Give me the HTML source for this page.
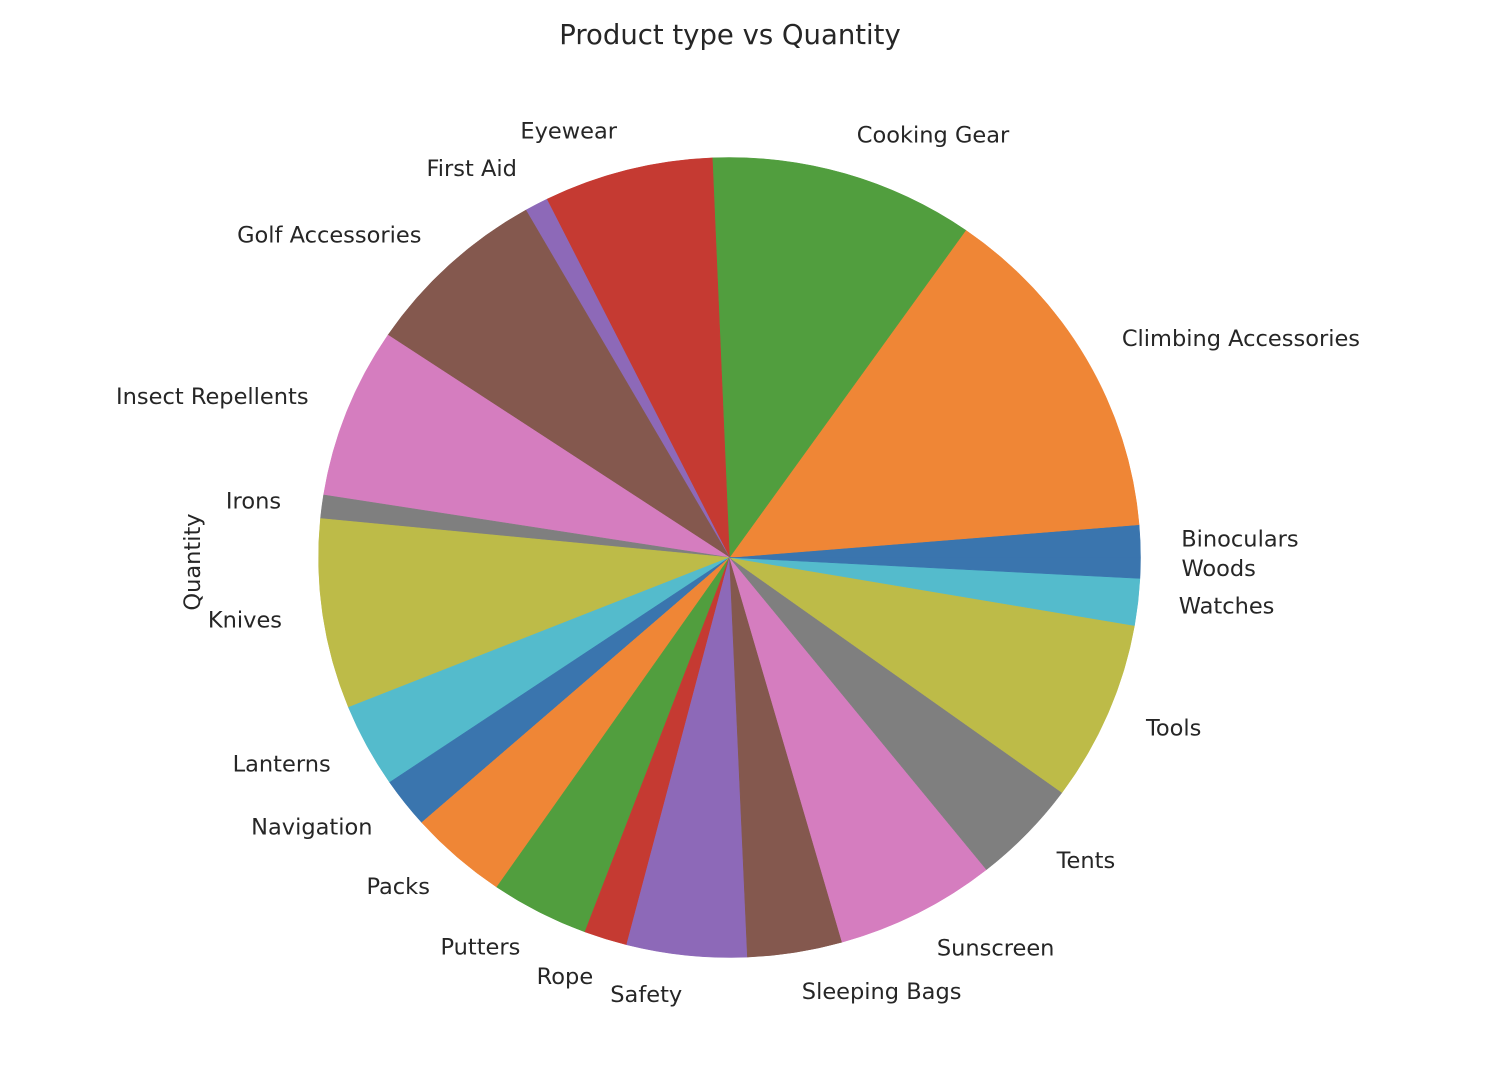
<!DOCTYPE html>
<html>
<head>
<meta charset="utf-8">
<style>
  html, body { margin: 0; padding: 0; background: #ffffff; }
  svg { display: block; }
  text { font-family: "DejaVu Sans", "Liberation Sans", sans-serif; fill: #262626; }
</style>
</head>
<body>
<svg id="chart" width="1506" height="1068" viewBox="0 0 1506 1068" xmlns="http://www.w3.org/2000/svg">
  <rect x="0" y="0" width="1506" height="1068" fill="#ffffff"/>
  <text x="730" y="44" font-size="27.5" text-anchor="middle">Product type vs Quantity</text>
  <text x="0" y="0" font-size="22.5" text-anchor="middle" transform="translate(200,562) rotate(-90)">Quantity</text>
  <g id="slices"></g>
  <g id="labels"></g>
</svg>
<script>
const categories = ["Binoculars","Climbing Accessories","Cooking Gear","Eyewear","First Aid","Golf Accessories","Insect Repellents","Irons","Knives","Lanterns","Navigation","Packs","Putters","Rope","Safety","Sleeping Bags","Sunscreen","Tents","Tools","Watches","Woods"];
const quantities = [4700,50200,37500,24000,3300,26500,24800,3400,27600,12200,7300,14000,13900,6100,17000,13400,22800,15300,26200,6800,3000];
const palette = ["#3a75ae","#ef8636","#519e3e","#c53a32","#8d69b8","#84584e","#d57dbf","#7f7f7f","#bdbb48","#54bbcc"];

const cx = 729.5, cy = 557.5, rx = 411, ry = 400;
const svgNS = "http://www.w3.org/2000/svg";
const gS = document.getElementById("slices");
const gL = document.getElementById("labels");
const total = quantities.reduce((a, b) => a + b, 0);
let start = 0;
function pt(a, k) {
  return [cx + k * rx * Math.cos(a), cy - k * ry * Math.sin(a)];
}
categories.forEach((name, i) => {
  const frac = quantities[i] / total;
  const a0 = start * 2 * Math.PI;
  const a1 = (start + frac) * 2 * Math.PI;
  start += frac;
  const p0 = pt(a0, 1), p1 = pt(a1, 1);
  const large = (a1 - a0) > Math.PI ? 1 : 0;
  const path = document.createElementNS(svgNS, "path");
  path.setAttribute("d", `M${cx},${cy} L${p0[0]},${p0[1]} A${rx},${ry} 0 ${large} 0 ${p1[0]},${p1[1]} Z`);
  path.setAttribute("fill", palette[i % palette.length]);
  path.setAttribute("stroke", palette[i % palette.length]);
  path.setAttribute("stroke-width", "0.5");
  
  
  gS.appendChild(path);

  const am = (a0 + a1) / 2;
  const lp = pt(am, 1.1);
  const t = document.createElementNS(svgNS, "text");
  t.setAttribute("x", lp[0]);
  t.setAttribute("y", lp[1]);
  t.setAttribute("font-size", "22.5");
  t.setAttribute("dominant-baseline", "central");
  t.setAttribute("text-anchor", Math.cos(am) >= 0 ? "start" : "end");
  t.textContent = name;
  
  
  gL.appendChild(t);
});
</script>
</body>
</html>
